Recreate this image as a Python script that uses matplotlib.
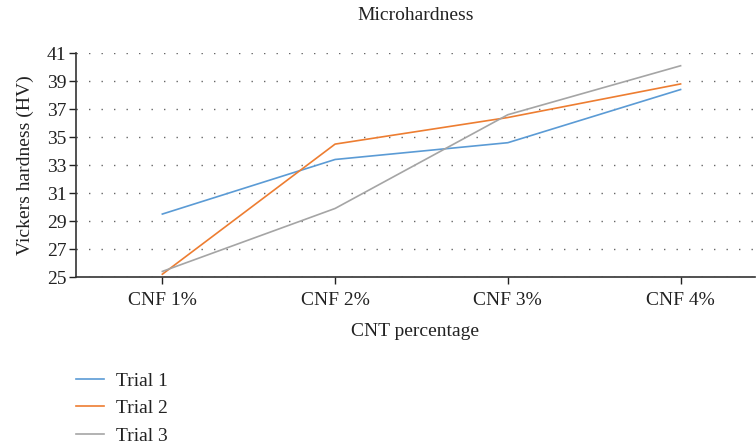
import matplotlib
matplotlib.use('Agg')
from matplotlib import pyplot as plt

categories = ['CNF 1%', 'CNF 2%', 'CNF 3%', 'CNF 4%']
trial1 = [29.5, 33.4, 34.6, 38.4]
trial2 = [25.2, 34.5, 36.4, 38.8]
trial3 = [25.4, 29.9, 36.6, 40.1]
yticks = list(range(25, 42, 2))

plt.rcParams['font.family'] = ['Liberation Serif', 'DejaVu Serif']

fig = plt.figure(figsize=(7.56, 4.43), dpi=100)
ax = fig.add_axes([0.1005, 0.3747, 0.898, 0.5053])

x = list(range(len(categories)))
ax.plot(x, trial1, color='#5B9BD5', lw=1.2, label='Trial 1')
ax.plot(x, trial2, color='#ED7D31', lw=1.2, label='Trial 2')
ax.plot(x, trial3, color='#A5A5A5', lw=1.2, label='Trial 3')

ax.set_xlim(-0.5, 3.43)
ax.set_ylim(25, 41)
ax.set_yticks(yticks)
ax.set_xticks(x)
ax.set_xticklabels(categories)
ax.tick_params(labelsize=14, colors='#222222', length=5, width=1)
ax.tick_params(axis='x', pad=6)
ax.tick_params(axis='y', pad=2)

# dotted horizontal grid
ax.yaxis.grid(True, color='#666666', linestyle=(0, (1, 8)), lw=1)
ax.set_axisbelow(True)
for s in ['top', 'right']:
    ax.spines[s].set_visible(False)
for s in ['left', 'bottom']:
    ax.spines[s].set_color('#333333')
    ax.spines[s].set_linewidth(1.2)

ax.set_title('Microhardness', fontsize=14, pad=24, color='#222222')
ax.set_xlabel('CNT percentage', fontsize=14, color='#222222', labelpad=10)
ax.set_ylabel('Vickers hardness (HV)', fontsize=14, color='#222222', labelpad=9)

fig.legend(loc='upper left', bbox_to_anchor=(0.077, 0.2), frameon=False,
           fontsize=14, handlelength=1.45, handletextpad=0.6, labelspacing=0.52,
           labelcolor='#222222')

fig.savefig('out.png', dpi=100)
